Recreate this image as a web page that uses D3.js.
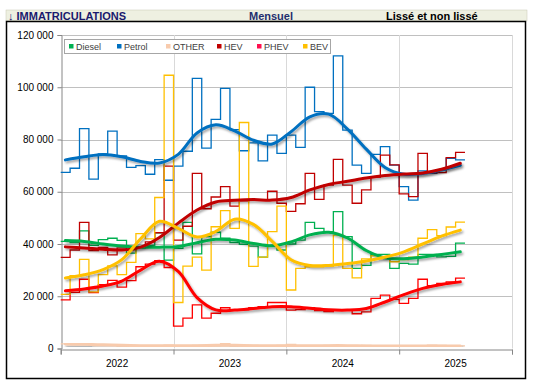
<!DOCTYPE html>
<html>
<head>
<meta charset="utf-8">
<script src="https://cdn.jsdelivr.net/npm/d3@7"></script>
<style>
  body { margin: 0; background: #fff; }
  #chart { width: 535px; height: 386px; }
  text { font-family: "Liberation Sans", Arial, sans-serif; }
</style>
</head>
<body>
<div id="chart"></div>
<script>
//Données mensuelles (janv. 2022 -> juil. 2025)
const annees = ['2022', '2023', '2024', '2025'];
const series = ['Diesel', 'Petrol', 'OTHER', 'HEV', 'PHEV', 'BEV'];
const yTicks = [0, 20000, 40000, 60000, 80000, 100000, 120000];

const diesel = [41000,40500,45000,39500,41700,42200,41400,36500,38700,39500,44300,33800,
  38300,48300,36200,42800,44500,42200,40500,39900,39200,35000,39200,37700,
  40000,41500,48300,46000,44700,52400,42800,30700,31800,36000,36000,30700,
  32600,32300,36000,36000,35100,35300,40300];
const petrol = [67400,69000,84200,64800,74500,83200,73700,69300,70000,66700,72300,64400,
  69800,75500,103400,76700,87700,99600,83800,75700,78700,71800,81700,74700,
  81700,77000,100000,90700,90000,112000,83600,70200,67000,74300,77300,70200,
  62000,56800,68000,67000,68500,72800,72200];
const other = [1800,1600,1900,1500,1300,1200,1000,1000,1100,1000,1100,1300,
  1000,1000,1200,1000,1100,1900,1000,1100,1200,1000,1100,1200,
  1600,1000,1100,1000,1200,1100,1000,1000,1200,900,1000,1000,
  900,900,1000,1300,1200,1100,1000];
const hev = [34900,37700,48300,37500,38700,35800,38500,37900,38500,40800,44300,69800,
  41500,46800,67000,53500,58000,62000,54500,56500,56800,56800,60200,55600,
  52500,55400,67000,57100,62500,72400,62500,55600,60700,65600,74000,70300,
  59200,58100,74700,67200,67300,73100,75100];
const phev = [18600,21500,26500,21400,24400,26100,23500,26000,31300,32300,33600,31000,
  8600,11600,16700,11600,13500,15600,14800,14800,15600,16000,17600,17600,
  14700,14900,15600,14500,14100,14600,14800,13300,14000,19200,20400,18800,
  17300,19200,26500,24100,24900,25500,26900];
const bev = [20700,27900,34100,21700,28300,31600,28300,33000,44000,42000,57800,104600,
  17600,31500,35000,30000,46600,52800,46000,86500,31400,35000,44700,54500,
  22400,30700,31300,31300,31500,43400,30700,27000,34300,35500,34500,33200,
  34000,35000,42200,45500,43200,46500,48400];

//Courbes lissées, lues tous les deux mois
const moisLisse = [0,2,4,6,8,10,12,14,16,18,20,22,24,26,28,30,32,34,36,38,40,42];
const dieselLisse = [41300,41000,40000,39200,38800,38800,39000,40500,41800,41500,40200,39300,40800,43500,44500,42300,37500,34700,34400,35000,36000,37000];
const petrolLisse = [72200,73400,74300,73400,71600,71000,74300,82500,85600,83300,79700,78300,83000,88700,89700,84000,76300,69300,66700,67000,68300,70100];
const otherLisse = [1700,1600,1400,1200,1100,1100,1100,1100,1200,1200,1100,1100,1100,1100,1100,1100,1000,1000,1000,1000,1000,1000];
const hevLisse = [38900,38500,38000,37700,38800,42500,48000,53000,56100,56700,57000,56800,57800,60700,62800,64000,65300,66200,66800,67200,68600,70900];
const phevLisse = [22100,22800,23900,25800,30000,33400,29500,19500,14800,14700,15300,16000,16000,15400,14800,14700,15300,17800,20600,23000,24500,25500];
const bevLisse = [27000,28200,30200,34000,42000,48700,46000,42700,44800,49500,47500,41000,34000,31800,31800,32500,33500,35000,37000,40000,43000,45300];

const COLORS = {
  Diesel: '#00B050', Petrol: '#0070C0', OTHER: '#F8CBAD',
  HEV: '#C00000', PHEV: '#FF0000', BEV: '#FFC000'
};

const bruts = { Diesel: diesel, Petrol: petrol, OTHER: other, HEV: hev, PHEV: phev, BEV: bev };
const lisses = { Diesel: dieselLisse, Petrol: petrolLisse, OTHER: otherLisse, HEV: hevLisse, PHEV: phevLisse, BEV: bevLisse };

const W = 535, H = 386;
let svg = d3.select('#chart').append('svg')
  .attr('width', W).attr('height', H);

let defs = svg.append('defs');
defs.append('filter').attr('id', 'ombre')
  .attr('x', '-10%').attr('y', '-10%').attr('width', '120%').attr('height', '130%')
  .append('feDropShadow')
  .attr('dx', 1.5).attr('dy', 2).attr('stdDeviation', 1.2)
  .attr('flood-color', '#000').attr('flood-opacity', 0.35);

//Bandeau titre
svg.append('rect').attr('x', 6).attr('y', 10).attr('width', 521).attr('height', 11)
  .attr('fill', '#EEF0E1').attr('stroke', '#C8C8B4').attr('stroke-width', 0.5);
svg.append('text').attr('x', 8).attr('y', 19.5)
  .attr('font-size', 11).attr('font-weight', 'bold').attr('fill', '#1A1A6E')
  .text('↓ IMMATRICULATIONS');
svg.append('text').attr('x', 271).attr('y', 19.5).attr('text-anchor', 'middle')
  .attr('font-size', 11).attr('font-weight', 'bold').attr('fill', '#1F2F6E')
  .text('Mensuel');
svg.append('text').attr('x', 386).attr('y', 19.5)
  .attr('font-size', 11).attr('font-weight', 'bold').attr('fill', '#000')
  .text('Lissé et non lissé');

//Cadre du graphique
svg.append('rect').attr('x', 6.5).attr('y', 21.5).attr('width', 519).attr('height', 357)
  .attr('fill', '#fff').attr('stroke', '#000').attr('stroke-width', 1.5);

let x = d3.scaleLinear().domain([0, 48]).range([60.7, 512]);
let y = d3.scaleLinear().domain([0, 120000]).range([348.5, 35]);

//Grille
let g = svg.append('g');
g.selectAll('.hgrid').data(yTicks.slice(1)).enter().append('line')
  .attr('x1', x(0)).attr('x2', x(48))
  .attr('y1', d => Math.round(y(d)) + 0.5).attr('y2', d => Math.round(y(d)) + 0.5)
  .attr('stroke', '#C0C0C0').attr('stroke-width', 1);
g.selectAll('.vgrid').data([12, 24, 36, 48]).enter().append('line')
  .attr('x1', d => Math.round(x(d)) + 0.5).attr('x2', d => Math.round(x(d)) + 0.5)
  .attr('y1', y(120000)).attr('y2', y(0))
  .attr('stroke', '#D9D9D9').attr('stroke-width', 1);

//Axes
let yAxis = d3.axisLeft(y).tickValues(yTicks).tickSize(4).tickPadding(4)
  .tickFormat(d => d3.format(',')(d).replace(/,/g, ' '));
let ya = svg.append('g').attr('transform', 'translate(' + (Math.round(x(0)) + 0.5) + ',0)').call(yAxis);
ya.select('.domain').attr('stroke', '#868686');
ya.selectAll('.tick line').attr('stroke', '#868686');
ya.selectAll('.tick text').attr('font-size', 10).attr('fill', '#000')
  .attr('font-family', '"Liberation Sans", Arial, sans-serif');

let xAxis = d3.axisBottom(x).tickValues([0, 12, 24, 36, 48]).tickSize(5).tickFormat('');
let xa = svg.append('g').attr('transform', 'translate(0,' + (Math.round(y(0)) + 0.5) + ')').call(xAxis);
xa.select('.domain').attr('stroke', '#868686');
xa.selectAll('.tick line').attr('stroke', '#868686');

svg.append('g').selectAll('text').data(annees).enter().append('text')
  .attr('x', (d, i) => x(i * 12 + 6)).attr('y', 367)
  .attr('text-anchor', 'middle').attr('font-size', 10).attr('fill', '#000')
  .text(d => d);

//Courbes en escalier (non lissées)
let escalier = d3.line()
  .x(d => x(d[0])).y(d => y(d[1]))
  .curve(d3.curveStepAfter);

let plot = svg.append('g');
['OTHER', 'Diesel', 'Petrol', 'HEV', 'PHEV', 'BEV'].forEach(function(s) {
  let vals = bruts[s];
  let pts = vals.map((v, i) => [i, v]);
  pts.push([vals.length, vals[vals.length - 1]]);
  plot.append('path').datum(pts)
    .attr('d', escalier)
    .attr('fill', 'none')
    .attr('stroke', COLORS[s])
    .attr('stroke-width', 1.3);
});

//Courbes lissées
let lisse = d3.line()
  .x(d => x(d[0] + 0.5)).y(d => y(d[1]))
  .curve(d3.curveCatmullRom.alpha(0.5));

['OTHER', 'Diesel', 'Petrol', 'HEV', 'PHEV', 'BEV'].forEach(function(s) {
  let pts = moisLisse.map((m, i) => [m, lisses[s][i]]);
  plot.append('path').datum(pts)
    .attr('d', lisse)
    .attr('fill', 'none')
    .attr('stroke', COLORS[s])
    .attr('stroke-width', 3)
    .attr('stroke-linecap', 'round')
    .attr('filter', 'url(#ombre)');
});

//Légende
let legendX = [69, 117, 166, 217, 257, 303];
let leg = svg.append('g');
leg.append('rect').attr('x', 64.5).attr('y', 39.5).attr('width', 266).attr('height', 14)
  .attr('fill', '#fff').attr('stroke', '#A6A6A6').attr('stroke-width', 1);
series.forEach(function(s, i) {
  leg.append('rect').attr('x', legendX[i]).attr('y', 44).attr('width', 4.5).attr('height', 4.5)
    .attr('fill', s === 'PHEV' ? '#FF1050' : COLORS[s]);
  leg.append('text').attr('x', legendX[i] + 7).attr('y', 50)
    .attr('font-size', 9).attr('fill', '#404040').text(s);
});
</script>
</body>
</html>
